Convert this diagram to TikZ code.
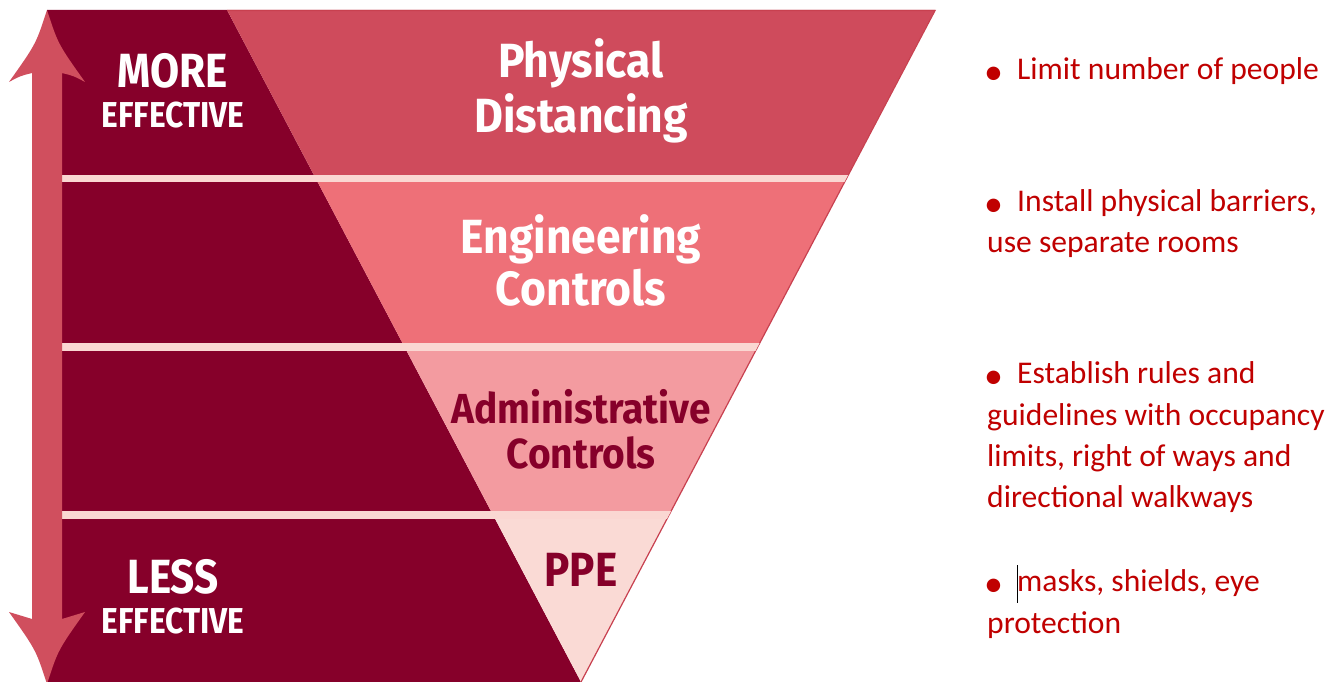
\documentclass[tikz,border=0pt]{standalone}
\usepackage{fontspec}
\setmainfont{Carlito}
\newfontfamily\headfont[FakeStretch=0.88]{Fira Sans}
\newfontfamily\bandfont[FakeStretch=0.925]{Fira Sans}
\newfontfamily\bodyfont{Carlito}
\definecolor{darkred}{HTML}{86002A}
\definecolor{bandA}{HTML}{CF4B5C}
\definecolor{bandB}{HTML}{EE7078}
\definecolor{bandC}{HTML}{F39BA0}
\definecolor{bandD}{HTML}{FADAD5}
\definecolor{sepcol}{HTML}{FAD7D2}
\definecolor{edgecol}{HTML}{C8404F}
\definecolor{arrowcol}{HTML}{D04F5E}
\definecolor{rtred}{HTML}{C00000}
\begin{document}
\begin{tikzpicture}[x=1pt,y=-1pt,
  bandtext/.style={inner sep=0, anchor=base, font=\bandfont\bfseries\fontsize{48}{50}\selectfont},
  bandtextsmall/.style={inner sep=0, anchor=base, font=\bandfont\bfseries\fontsize{42}{44}\selectfont},
  bigtext/.style={inner sep=0, anchor=base, font=\headfont\bfseries\fontsize{48}{50}\selectfont},
  smalltext/.style={inner sep=0, anchor=base, font=\headfont\bfseries\fontsize{36}{40}\selectfont},
  rtext/.style={inner sep=0, anchor=base west, text=rtred, font=\bodyfont\fontsize{31.6}{40}\selectfont},
  bullet/.style={inner sep=0, anchor=base west, text=rtred, font=\bodyfont\fontsize{38}{40}\selectfont}]
\useasboundingbox (0,0) rectangle (1338,682);
\fill[white] (0,0) rectangle (1338,682);
% dark left region
\fill[darkred] (47,10) -- (227,10) -- (581,682) -- (47,682) -- cycle;
% inverted triangle bands
\begin{scope}
  \clip (227,10) -- (935,10) -- (581,682) -- cycle;
  \fill[bandA] (200,0) rectangle (960,180);
  \fill[bandB] (200,178) rectangle (960,347);
  \fill[bandC] (200,347) rectangle (960,515);
  \fill[bandD] (200,515) rectangle (960,690);
\end{scope}
\draw[edgecol, line width=1.2pt] (227,10.6) -- (935,10.6) -- (581,682);
% separators
\begin{scope}
  \clip (47,10) -- (935,10) -- (581,682) -- (47,682) -- cycle;
  \fill[sepcol] (40,175) rectangle (960,182);
  \fill[sepcol] (40,343) rectangle (960,351);
  \fill[sepcol] (40,511) rectangle (960,519);
\end{scope}
% double-headed arrow
\fill[arrowcol] (47,10) .. controls (36,44) .. (9,82)
  .. controls (20,76) .. (32,73) -- (32,619)
  .. controls (20,616) .. (9,612)
  .. controls (36,650) .. (47,684)
  .. controls (58,650) .. (85,612)
  .. controls (74,616) .. (62,619) -- (62,73)
  .. controls (74,76) .. (85,82)
  .. controls (58,44) .. (47,10) -- cycle;
% labels in the triangle
\node[bandtext, text=white] (pd1) at (581,78) {Physical};
\node[bandtext, text=white] (pd2) at (581,132) {Distancing};
\node[bandtext, text=white] (ec1) at (581,253) {Engineering};
\node[bandtext, text=white] (ec2) at (581,305) {Controls};
\node[bandtextsmall, text=darkred] (ac1) at (581,423) {Administrative};
\node[bandtextsmall, text=darkred] (ac2) at (581,468) {Controls};
\node[bigtext, text=darkred] (ppe) at (581,586) {PPE};
% left labels
\node[bigtext, text=white] (more) at (173,88) {MORE};
\node[smalltext, text=white] (eff1) at (173,128) {EFFECTIVE};
\node[bigtext, text=white] (less) at (173,593) {LESS};
\node[smalltext, text=white] (eff2) at (173,633) {EFFECTIVE};
% right bullet texts
\node[bullet] (b1) at (984,85) {•};
\node[rtext] (t1a) at (1017,80) {Limit number of people};
\node[bullet] (b2) at (984,216) {•};
\node[rtext] (t2a) at (1017,211) {Install physical barriers,};
\node[rtext] (t2b) at (987,252) {use separate rooms};
\node[bullet] (b3) at (984,388) {•};
\node[rtext] (t3a) at (1017,383) {Establish rules and};
\node[rtext] (t3b) at (987,425) {guidelines with occupancy};
\node[rtext] (t3c) at (987,466) {limits, right of ways and};
\node[rtext] (t3d) at (987,507) {directional walkways};
\node[bullet] (b4) at (984,596) {•};
\node[rtext] (t4a) at (1017,591) {masks, shields, eye};
\node[rtext] (t4b) at (987,633) {protection};
% text caret
\coordinate (caretTop) at (1017,565);
\coordinate (caretBot) at (1017,603);
\draw[black, line width=1pt] (caretTop) -- (caretBot);
\end{tikzpicture}
\end{document}
